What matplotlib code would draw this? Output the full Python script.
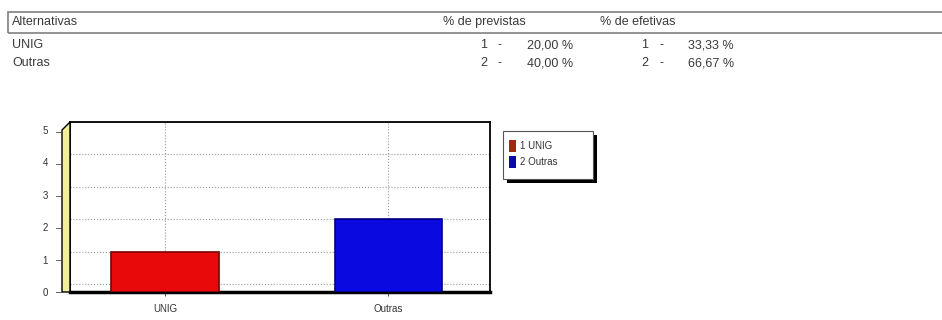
import matplotlib.pyplot as plt
import matplotlib.transforms as mtransforms
from matplotlib.patches import Rectangle, Polygon

plt.rcParams['font.family'] = ['Liberation Sans', 'DejaVu Sans']

# dados
categorias = ['UNIG', 'Outras']
qtd_previstas = [1, 2]
pct_previstas = [20.00, 40.00]
qtd_efetivas = [1, 2]
pct_efetivas = [33.33, 66.67]
cores_barra = ['#e80a0a', '#0a0ae0']
cores_legenda = ['#a02814', '#0a0aa8']

W, H = 942, 320
fig = plt.figure(figsize=(W / 100, H / 100), dpi=100)
fig.patch.set_facecolor('white')


def fx(x):
    return x / W


def fy(y):
    return 1 - y / H


def fmt(v):
    return f'{v:.2f}'.replace('.', ',') + ' %'


# cabecalho da tabela
fig.patches.append(Rectangle((fx(8), fy(33)), fx(945) - fx(8), fy(12) - fy(33),
                             transform=fig.transFigure, fill=False,
                             edgecolor='#808080', linewidth=1.2))
txt = dict(fontsize=9, color='#3a3a3a', va='center')
fig.text(fx(12), fy(22), 'Alternativas', ha='left', **txt)
fig.text(fx(443), fy(22), '% de previstas', ha='left', **txt)
fig.text(fx(600), fy(22), '% de efetivas', ha='left', **txt)

for i, cat in enumerate(categorias):
    y = fy(45 + 18 * i)
    fig.text(fx(12), y, cat, ha='left', **txt)
    fig.text(fx(487), y, str(qtd_previstas[i]), ha='right', **txt)
    fig.text(fx(500), y, '-', ha='center', **txt)
    fig.text(fx(573), y, fmt(pct_previstas[i]), ha='right', **txt)
    fig.text(fx(648), y, str(qtd_efetivas[i]), ha='right', **txt)
    fig.text(fx(661), y, '-', ha='center', **txt)
    fig.text(fx(734), y, fmt(pct_efetivas[i]), ha='right', **txt)

# grafico (parede de fundo 3D: grade deslocada para cima)
ax = fig.add_axes([fx(70), fy(292), fx(490) - fx(70), fy(122) - fy(292)])
base = -0.25
x = list(range(len(categorias)))
alturas = [v - base for v in qtd_previstas]
ax.bar(x, alturas, bottom=base, width=0.48, color=cores_barra,
       edgecolor=['#7a0000', '#00007a'], linewidth=1.2, zorder=3)
ax.set_xlim(-0.426, 1.457)
ax.set_ylim(base, 5)
ax.set_yticks(range(6))
ax.set_xticks(x)
ax.set_xticklabels(categorias)
ax.tick_params(axis='y', labelsize=7, colors='#333333', length=0, pad=16)
ax.tick_params(axis='x', labelsize=7, colors='#333333', length=3, width=0.6, pad=6)
# rotulos do eixo y ficam na face frontal (8 px abaixo da grade)
off = mtransforms.ScaledTranslation(0, -8 / 100, fig.dpi_scale_trans)
for lab in ax.get_yticklabels():
    lab.set_transform(lab.get_transform() + off)
# marcas curtas na face frontal, entre rotulo e parede
for v in range(6):
    yv = fy(292 - 32 * v)
    fig.add_artist(plt.Line2D([fx(56), fx(62)], [yv, yv], color='#444444',
                              linewidth=0.6, transform=fig.transFigure))
ax.grid(True, linestyle=':', color='#999999', linewidth=0.8, zorder=0)
for s in ['top', 'right', 'left']:
    ax.spines[s].set_linewidth(1.3)
ax.spines['bottom'].set_linewidth(2.5)

# parede amarela
fig.patches.append(Polygon([(fx(62), fy(292)), (fx(62), fy(130)), (fx(70), fy(122)),
                            (fx(70), fy(292))], closed=True,
                           transform=fig.transFigure, facecolor='#f2ee9a',
                           edgecolor='black', linewidth=1))

# legenda
fig.patches.append(Rectangle((fx(507), fy(183)), fx(90), fy(0) - fy(48),
                             transform=fig.transFigure, facecolor='black'))
fig.patches.append(Rectangle((fx(503), fy(179)), fx(90), fy(0) - fy(48),
                             transform=fig.transFigure, facecolor='white',
                             edgecolor='#555555', linewidth=0.8))
for i, cat in enumerate(categorias):
    yy = 146 + 16 * i
    fig.patches.append(Rectangle((fx(509), fy(yy + 6)), fx(7), fy(0) - fy(12),
                                 transform=fig.transFigure,
                                 facecolor=cores_legenda[i], edgecolor='none'))
    fig.text(fx(520), fy(yy), f'{i + 1} {cat}', fontsize=7, color='#333333',
             va='center', ha='left')

fig.savefig('out.png', dpi=100)
